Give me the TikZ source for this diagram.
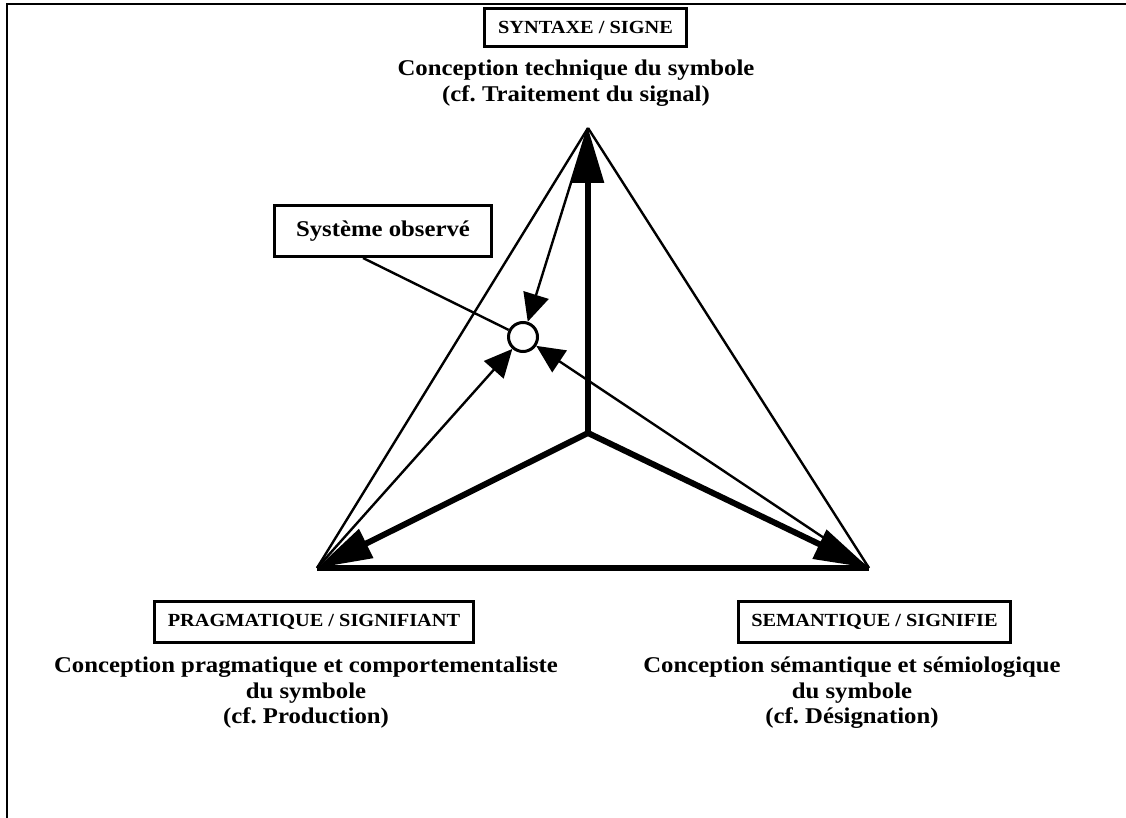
\documentclass[tikz,border=0pt]{standalone}
\usepackage{fontspec}
\setmainfont{Liberation Serif}[FakeStretch=1.1]
\usetikzlibrary{arrows.meta,calc}
\begin{document}
\frenchspacing
\begin{tikzpicture}[x=1pt,y=-1pt,
  thinline/.style={line width=2.4pt},
  thickline/.style={line width=6pt},
  bigtip/.style={-{Triangle[length=55pt,width=31pt]}},
  smalltip/.style={-{Triangle[length=28pt,width=26pt]}},
  labelbox/.style={draw,line width=3pt,inner sep=0pt,
    font=\fontsize{18.5}{20}\selectfont\bfseries},
  caption/.style={align=center,inner sep=0pt,anchor=north,
    font=\fontsize{22.5}{25.5}\selectfont\bfseries},
]
\useasboundingbox (0,0) rectangle (1126,818);

% page frame (left and top edges)
\draw[line width=1.5pt] (7,818) -- (7,4) -- (1126,4);

% corners of the triangle and its centre
\coordinate (T) at (588,128);
\coordinate (L) at (317,568);
\coordinate (R) at (869,568);
\coordinate (C) at (588,433);

% observed system
\node[circle,draw,line width=3pt,minimum size=29pt,inner sep=0pt] (obs) at (523,337) {};

% triangle
\draw[thinline] (T) -- (L);
\draw[thinline] (T) -- (R);
\draw[line width=5.5pt] (L) -- (R);

% thick axes from the centre
\draw[thickline,bigtip] (C) -- (T);
\draw[thickline,bigtip] (C) -- (L);
\draw[thickline,bigtip] (C) -- (R);

% thin arrows from the corners to the observed system
\draw[thinline,smalltip] (T) -- (obs);
\draw[thinline,smalltip] (L) -- (obs);
\draw[thinline,smalltip] (R) -- (obs);

% labels
\node[labelbox,minimum width=202pt,minimum height=38pt] (syn) at (585.5,27.5) {SYNTAXE / SIGNE};
\node[caption] (syntxt) at (576,59.7) {Conception technique du symbole\\(cf. Traitement du signal)};

\node[draw,line width=3pt,inner sep=0pt,minimum width=217pt,minimum height=51pt,
  font=\fontsize{22.5}{26}\selectfont\bfseries] (sys) at (383,231) {Système observé};
\coordinate (sysfoot) at ($(sys.south)+(-20,0)$);
\draw[thinline] (sysfoot) -- (obs);

\node[labelbox,minimum width=319pt,minimum height=41pt] (prag) at (314,622) {PRAGMATIQUE / SIGNIFIANT};
\node[caption] (pragtxt) at (306,656.7) {Conception pragmatique et comportementaliste\\du symbole\\(cf. Production)};

\node[labelbox,minimum width=272pt,minimum height=41pt] (sem) at (874.5,622) {SEMANTIQUE / SIGNIFIE};
\node[caption] (semtxt) at (852,656.7) {Conception sémantique et sémiologique\\du symbole\\(cf. Désignation)};
\end{tikzpicture}
\end{document}
